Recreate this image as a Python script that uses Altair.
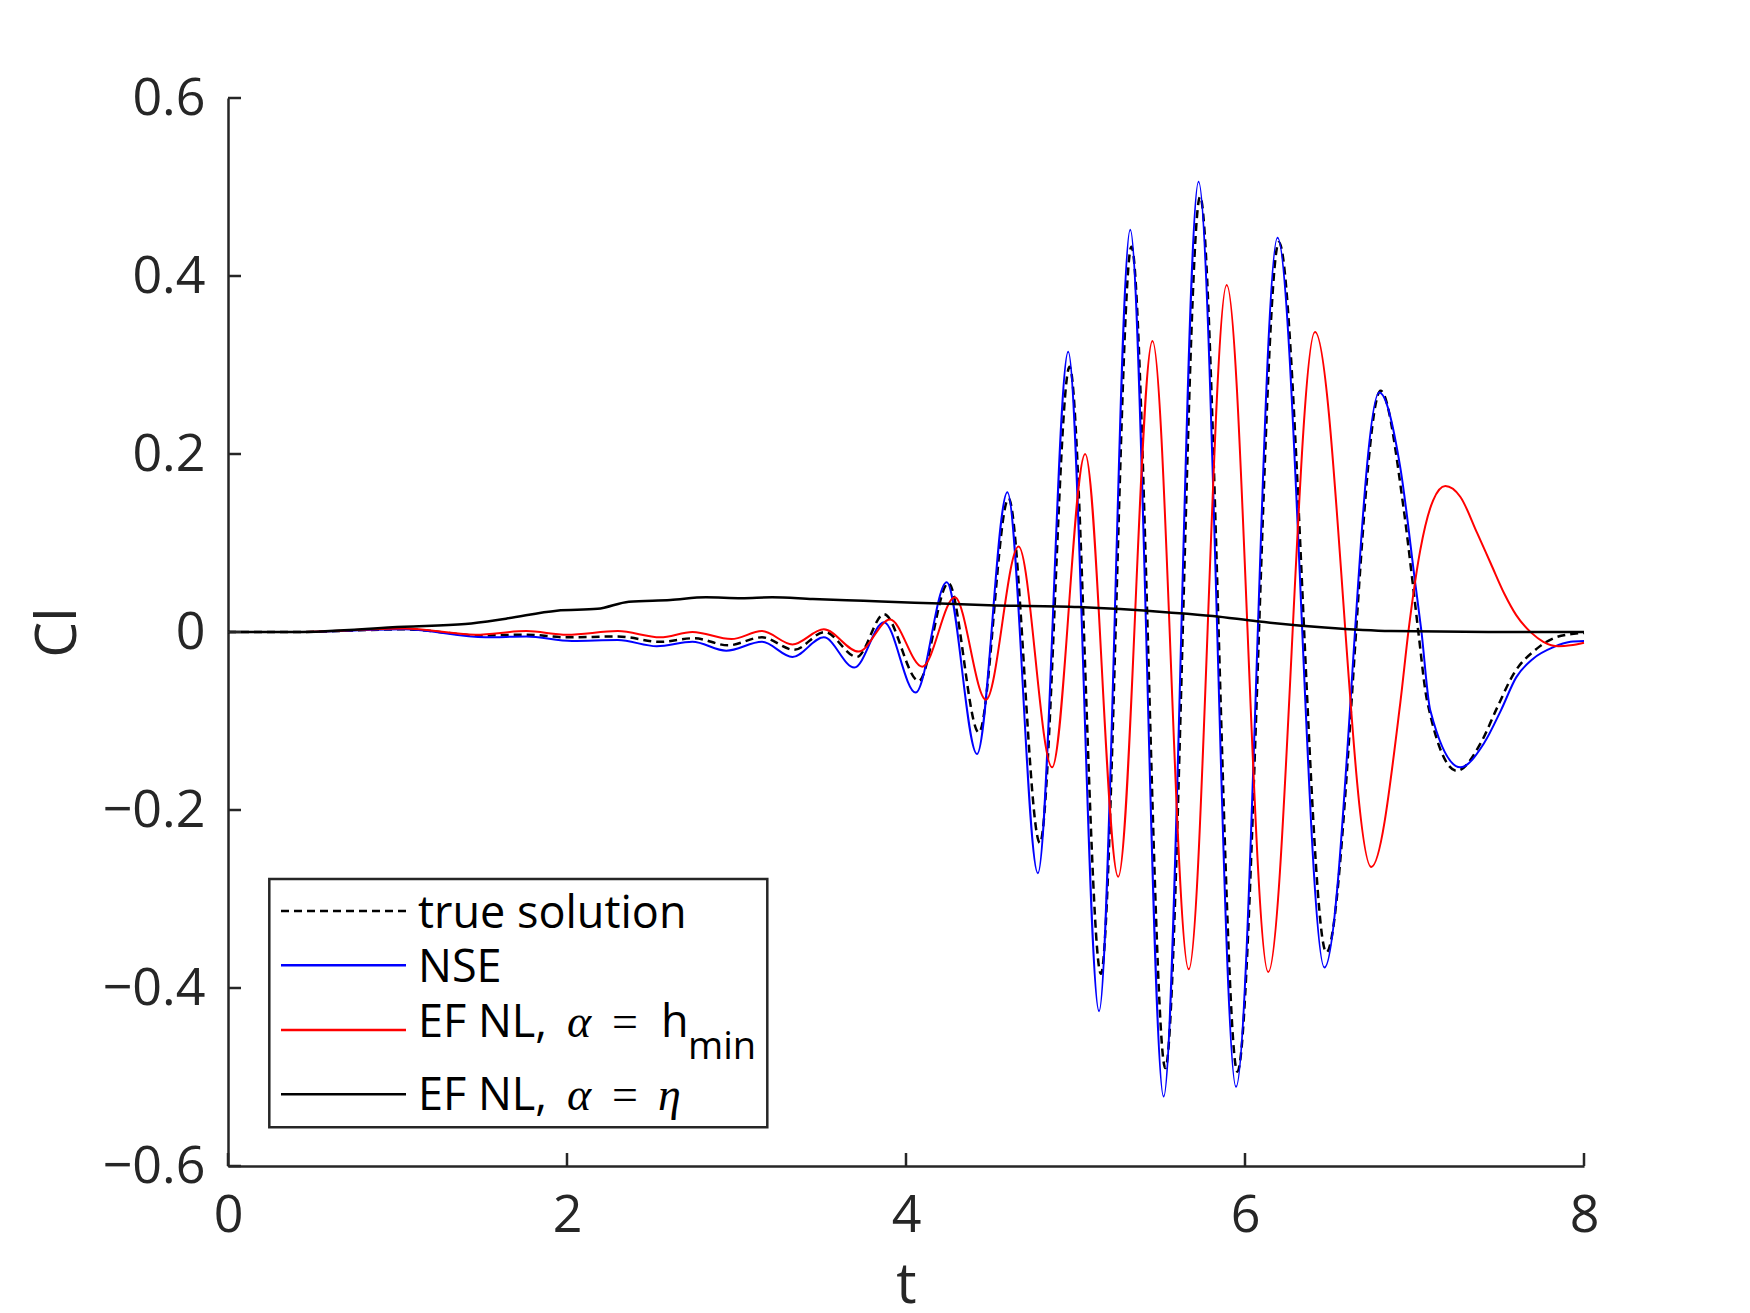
import altair as alt
import pandas as pd

# Lift coefficient histories, Cl(t), for the four runs
t_true = [0, 0.4, 1.04, 1.5, 1.76, 2.0, 2.3, 2.55, 2.75, 2.95, 3.15, 3.34, 3.52, 3.71, 3.87,
          4.075, 4.25, 4.43, 4.605, 4.79, 4.965, 5.15, 5.33, 5.53, 5.735, 5.955, 6.2, 6.48,
          6.80, 6.935, 6.99, 7.024, 7.074, 7.25, 7.39, 7.49, 7.585, 7.72, 7.82, 7.94, 8.0]
cl_true = [0, 0, 0.003, -0.004, -0.003, -0.006, -0.005, -0.011, -0.007, -0.015, -0.006, -0.020,
           0.000, -0.028, 0.020, -0.055, 0.055, -0.113, 0.150, -0.237, 0.298, -0.384, 0.433,
           -0.490, 0.489, -0.494, 0.438, -0.360, 0.271, 0.140, 0.054, -0.002, -0.077,
           -0.156, -0.125, -0.084, -0.047, -0.019, -0.007, -0.002, -0.001]

t_nse = [0, 0.4, 1.04, 1.52, 1.76, 2.03, 2.30, 2.53, 2.74, 2.94, 3.15, 3.33, 3.515, 3.695, 3.87,
         4.057, 4.24, 4.419, 4.598, 4.778, 4.957, 5.139, 5.323, 5.520, 5.726, 5.947, 6.192,
         6.469, 6.792, 6.916, 7.005, 7.04, 7.093, 7.27, 7.41, 7.51, 7.60, 7.70, 7.82,
         7.92, 8.0]
cl_nse = [0, 0, 0.003, -0.006, -0.005, -0.010, -0.009, -0.016, -0.011, -0.021, -0.011, -0.028,
          -0.006, -0.040, 0.011, -0.068, 0.056, -0.137, 0.157, -0.271, 0.315, -0.426, 0.452,
          -0.522, 0.506, -0.511, 0.443, -0.377, 0.269, 0.185, 0.054, 0.002, -0.088,
          -0.152, -0.125, -0.088, -0.051, -0.030, -0.017, -0.011, -0.010]

t_hmin = [0, 0.4, 1.04, 1.46, 1.76, 2.00, 2.30, 2.55, 2.74, 2.97, 3.15, 3.33, 3.515, 3.72, 3.906,
          4.096, 4.288, 4.472, 4.664, 4.862, 5.057, 5.252, 5.454, 5.668, 5.892, 6.137, 6.413,
          6.745, 6.916, 6.965, 7.034, 7.11, 7.182, 7.27, 7.37, 7.45, 7.53, 7.60, 7.69, 7.76,
          7.85, 7.92, 8.0]
cl_hmin = [0, 0, 0.004, -0.003, 0.001, -0.003, 0.001, -0.006, 0.000, -0.008, 0.001, -0.014,
           0.003, -0.022, 0.014, -0.039, 0.039, -0.076, 0.096, -0.152, 0.200, -0.275, 0.327,
           -0.379, 0.390, -0.382, 0.337, -0.264, -0.080, 0.002, 0.092, 0.148, 0.164, 0.152,
           0.111, 0.077, 0.043, 0.019, -0.001, -0.011, -0.016, -0.015, -0.012]

t_eta = [0, 0.4, 1.04, 1.40, 1.64, 1.94, 2.18, 2.365, 2.61, 2.82, 3.03, 3.21, 3.45, 3.75, 4.05,
         4.49, 5.02, 5.55, 5.81, 6.07, 6.47, 6.86, 7.45, 8.0]
cl_eta = [0, 0, 0.006, 0.009, 0.015, 0.024, 0.026, 0.034, 0.036, 0.039, 0.038, 0.039, 0.037,
          0.035, 0.033, 0.030, 0.028, 0.022, 0.018, 0.012, 0.005, 0.001, 0.000, 0.000]

x_ticks = [0, 2, 4, 6, 8]
y_ticks = [-0.6, -0.4, -0.2, 0, 0.2, 0.4, 0.6]

legend_names = ["true solution", "NSE", "EF NL,", "EF NL,"]

W, H = 1356, 1068
FONT = "Open Sans"
MATH = "Liberation Serif"
AX = "#262626"
TICK = 13

x_scale = alt.Scale(domain=[0, 8], nice=False, zero=False)
y_scale = alt.Scale(domain=[-0.6, 0.6], nice=False, zero=False)

x_axis = alt.Axis(values=x_ticks, title="t", ticks=False, grid=False, domainColor=AX,
                  domainWidth=2.5, labelFont=FONT, labelFontSize=52, labelColor=AX,
                  labelPadding=24, labelFlush=False, format="~g", titleFont=FONT,
                  titleFontSize=57, titleFontWeight="normal", titleColor=AX, titlePadding=16)
y_axis = alt.Axis(values=y_ticks, title="Cl", ticks=False, grid=False, domainColor=AX,
                  domainWidth=2.5, labelFont=FONT, labelFontSize=52, labelColor=AX,
                  labelPadding=23, labelFlush=False,
                  labelExpr="datum.value == 0 ? '0' : replace(format(datum.value, '.1f'), '-', '\u2212')",
                  titleFont=FONT, titleFontSize=57, titleFontWeight="normal", titleColor=AX,
                  titlePadding=15)


def curve(t, v, color, width, dash=None):
    df = pd.DataFrame({"t": t, "cl": v})
    opts = dict(color=color, strokeWidth=width, interpolate="monotone")
    if dash:
        opts["strokeDash"] = dash
    return alt.Chart(df).mark_line(**opts).encode(
        x=alt.X("t:Q", scale=x_scale, axis=x_axis),
        y=alt.Y("cl:Q", scale=y_scale, axis=y_axis),
    )


lines = [
    curve(t_true, cl_true, "#000000", 2.5, [8, 5]),
    curve(t_nse, cl_nse, "#0000ff", 2),
    curve(t_hmin, cl_hmin, "#ff0000", 2),
    curve(t_eta, cl_eta, "#000000", 2.5),
]

# inward tick marks
x_tick_marks = alt.Chart(pd.DataFrame({"t": x_ticks})).mark_rule(color=AX, strokeWidth=2.5).encode(
    x=alt.X("t:Q", scale=x_scale, axis=x_axis), y=alt.value(H), y2=alt.value(H - TICK))
y_tick_marks = alt.Chart(pd.DataFrame({"cl": y_ticks})).mark_rule(color=AX, strokeWidth=2.5).encode(
    y=alt.Y("cl:Q", scale=y_scale, axis=y_axis), x=alt.value(0), x2=alt.value(TICK))

one = pd.DataFrame({"k": [0]})

# legend box, samples and labels
legend_box = alt.Chart(one).mark_rect(fill="white", stroke=AX, strokeWidth=2.5).encode(
    x=alt.value(41.3), x2=alt.value(539.3), y=alt.value(781), y2=alt.value(1029.3))

row_y = [813, 867.3, 932, 996.3]
row_base = [830.3, 883.7, 938.7, 1012]
sample_styles = [("#000000", [8, 5]), ("#0000ff", None), ("#ff0000", None), ("#000000", None)]

legend_layers = [legend_box]
for yy, (col, dash) in zip(row_y, sample_styles):
    opts = dict(color=col, strokeWidth=2.5)
    if dash:
        opts["strokeDash"] = dash
    legend_layers.append(alt.Chart(one).mark_rule(**opts).encode(
        x=alt.value(53), x2=alt.value(178), y=alt.value(yy)))


def label(txt, x, y, font=FONT, size=45, style="normal"):
    return alt.Chart(one).mark_text(text=txt, font=font, fontSize=size, fontStyle=style,
                                    align="left", baseline="alphabetic", color="black").encode(
        x=alt.value(x), y=alt.value(y))


for name, yb in zip(legend_names, row_base):
    legend_layers.append(label(name, 190, yb))

legend_layers += [
    label("\u03b1", 339, row_base[2], MATH, 46, "italic"),
    label("=", 384, row_base[2], MATH, 46),
    label("h", 433, row_base[2]),
    label("min", 460, 961, FONT, 38),
    label("\u03b1", 339, row_base[3], MATH, 46, "italic"),
    label("=", 384, row_base[3], MATH, 46),
    label("\u03b7", 430, row_base[3], MATH, 46, "italic"),
]

chart = alt.layer(*lines, x_tick_marks, y_tick_marks, *legend_layers).properties(
    width=W, height=H,
    padding={"left": 228, "top": 98, "right": 166, "bottom": 147},
    autosize=alt.AutoSizeParams(type="none"),
    background="white",
).configure_view(stroke=None)

chart.save("out.html", embed_options={"renderer": "svg", "actions": False})
